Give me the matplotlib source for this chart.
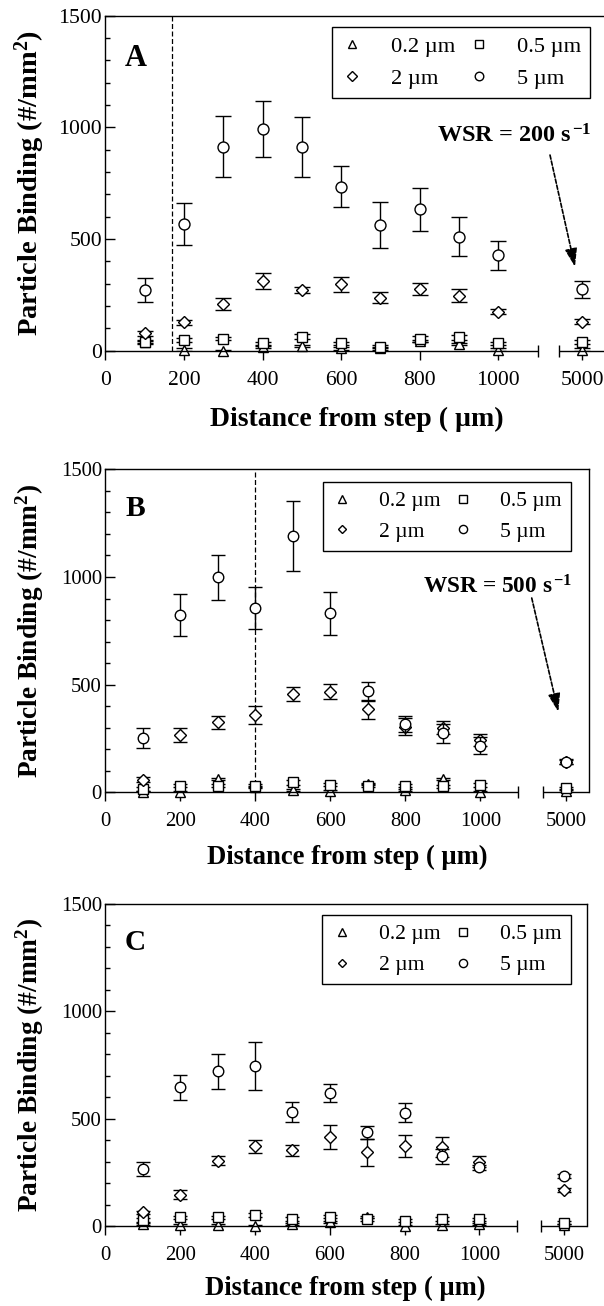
import numpy as np
import matplotlib
matplotlib.use("Agg")
import matplotlib.pyplot as plt
from matplotlib.lines import Line2D
from matplotlib.ticker import FixedLocator, MultipleLocator, NullFormatter, FuncFormatter

plt.rcParams['font.family'] = ['Liberation Serif', 'DejaVu Serif']
plt.rcParams['mathtext.fontset'] = 'custom'
plt.rcParams['mathtext.rm'] = 'Liberation Serif'
plt.rcParams['mathtext.bf'] = 'Liberation Serif:bold'
plt.rcParams['mathtext.it'] = 'Liberation Serif:italic'

# ---------------------------------------------------------------- data
distance = [100, 200, 300, 400, 500, 600, 700, 800, 900, 1000, 5000]
x_ticks = [0, 200, 400, 600, 800, 1000, 5000]
y_ticks = [0, 500, 1000, 1500]
size_labels = ['0.2 µm', '0.5 µm', '2 µm', '5 µm']
panel_letters = ['A', 'B', 'C']
wsr_labels = [r'WSR = 200 s$^{\,\mathbf{-1}}$', r'WSR = 500 s$^{\,\mathbf{-1}}$', None]
step_marks = [170, 400, None]

# panel A
a_p02 = [40, 5, 0, 15, 20, 10, 10, 45, 30, 5, 5]
a_p02_err = [5, 5, 5, 5, 5, 5, 5, 5, 5, 5, 5]
a_p05 = [40, 48, 54, 33, 63, 33, 18, 52, 60, 33, 40]
a_p05_err = [8, 8, 8, 8, 10, 8, 8, 12, 10, 8, 8]
a_p2 = [78, 127, 209, 312, 272, 297, 237, 275, 246, 175, 130]
a_p2_err = [12, 12, 26, 36, 12, 35, 24, 26, 30, 12, 10]
a_p5 = [272, 567, 913, 993, 913, 734, 561, 633, 510, 427, 275]
a_p5_err = [52, 93, 136, 125, 135, 92, 103, 97, 88, 66, 37]

# panel B
b_p02 = [0, 0, 60, 25, 10, 5, 40, 10, 60, 0, 5]
b_p02_err = [5, 5, 5, 5, 5, 5, 5, 5, 5, 5, 5]
b_p05 = [15, 31, 31, 31, 46, 36, 31, 31, 28, 34, 20]
b_p05_err = [8, 8, 8, 8, 10, 8, 8, 8, 8, 8, 6]
b_p2 = [59, 266, 325, 359, 457, 467, 385, 305, 300, 245, 142]
b_p2_err = [10, 31, 31, 40, 34, 34, 44, 38, 30, 28, 10]
b_p5 = [252, 824, 998, 856, 1192, 831, 469, 317, 274, 217, 142]
b_p5_err = [45, 99, 105, 97, 162, 99, 44, 39, 43, 41, 12]

# panel C
c_p02 = [10, 5, 5, 0, 10, 20, 40, 0, 5, 10, 5]
c_p02_err = [5, 5, 5, 5, 5, 5, 5, 5, 5, 5, 5]
c_p05 = [28, 40, 40, 51, 33, 44, 31, 25, 33, 31, 16]
c_p05_err = [8, 8, 8, 8, 8, 8, 8, 8, 8, 8, 6]
c_p2 = [64, 145, 304, 371, 352, 414, 343, 371, 368, 300, 168]
c_p2_err = [8, 21, 22, 31, 26, 55, 62, 51, 45, 27, 8]
c_p5 = [265, 646, 720, 745, 531, 620, 436, 528, 324, 274, 234]
c_p5_err = [33, 57, 80, 110, 45, 42, 31, 45, 37, 12, 10]

panel_series = [
    [(a_p02, a_p02_err), (a_p05, a_p05_err), (a_p2, a_p2_err), (a_p5, a_p5_err)],
    [(b_p02, b_p02_err), (b_p05, b_p05_err), (b_p2, b_p2_err), (b_p5, b_p5_err)],
    [(c_p02, c_p02_err), (c_p05, c_p05_err), (c_p2, c_p2_err), (c_p5, c_p5_err)],
]

# ---------------------------------------------------------------- broken x scale
BREAK_LO = 1100          # end of the linear part of the axis
FAR_CENTER = distance[-1]


def make_broken_scale(gap, half):
    """Linear up to BREAK_LO, a compressed gap, then a short segment around FAR_CENTER."""
    far_lo = FAR_CENTER - half

    def fwd(x):
        x = np.asarray(x, dtype=float)
        mid = BREAK_LO + (x - BREAK_LO) * gap / (far_lo - BREAK_LO)
        far = x - far_lo + BREAK_LO + gap
        return np.where(x <= BREAK_LO, x, np.where(x >= far_lo, far, mid))

    def inv(t):
        t = np.asarray(t, dtype=float)
        mid = BREAK_LO + (t - BREAK_LO) * (far_lo - BREAK_LO) / gap
        far = t - BREAK_LO - gap + far_lo
        return np.where(t <= BREAK_LO, t, np.where(t >= BREAK_LO + gap, far, mid))

    return fwd, inv, far_lo, FAR_CENTER + half


# ---------------------------------------------------------------- layout (pixels)
W, H = 604, 1306
fig = plt.figure(figsize=(W / 100, H / 100), dpi=100)

# left, top, bottom of each frame, pixels per x unit, gap and far half-width
frames = [
    (105.3, 15.7, 350.7, 0.393, 55, 59),
    (105.3, 469.3, 792.3, 0.375, 66, 62),
    (105.3, 904.0, 1226.0, 0.374, 65, 61),
]
scale_f = [1.0, 0.96, 0.96]
legend_anchor = [(0.4525, 0.967), (0.4492, 0.961), (0.4509, 0.9658)]
letter_pos = [(0.0614, 0.871), (0.063, 0.880), (0.0623, 0.879)]
ylabel_x = [-0.1505, -0.1557, -0.1566]
xlabel_pos = [(0.502, -0.2039), (0.4996, -0.2012), (0.4994, -0.1935)]
wsr_pos = [(0.9722, 0.622), (0.9654, 0.617), None]
arrow_from = [(0.8889, 0.584), (0.8815, 0.6015), None]
arrow_to = [(0.9388, 0.2507), (0.9364, 0.2495), None]

markers = ['^', 's', 'D', 'o']
msizes = [7.0, 7.5, 6.0, 7.9]
LW = 1.0

for i in range(3):
    left, top, bottom, pxu, gap, half = frames[i]
    sc = scale_f[i]
    fwd, inv, far_lo, far_hi = make_broken_scale(gap, half)
    width = (BREAK_LO + gap + 2 * half) * pxu
    ax = fig.add_axes([left / W, 1 - bottom / H, width / W, (bottom - top) / H])
    ax.set_xscale('function', functions=(fwd, inv))
    ax.set_xlim(0, far_hi)
    ax.set_ylim(0, 1500)

    for sp in ax.spines.values():
        sp.set_linewidth(LW)
    ax.spines['bottom'].set_visible(False)
    # broken bottom axis: two segments
    xt = ax.get_xaxis_transform()
    ax.plot([0, BREAK_LO], [0, 0], color='black', lw=LW, transform=xt,
            clip_on=False, solid_capstyle='butt', zorder=3)
    ax.plot([far_lo, far_hi], [0, 0], color='black', lw=LW, transform=xt,
            clip_on=False, solid_capstyle='butt', zorder=3)

    ax.xaxis.set_major_locator(FixedLocator(x_ticks))
    ax.xaxis.set_major_formatter(FuncFormatter(lambda v, p: f'{v:.0f}'))
    ax.xaxis.set_minor_locator(FixedLocator([BREAK_LO, far_lo]))
    ax.xaxis.set_minor_formatter(NullFormatter())
    ax.yaxis.set_major_locator(FixedLocator(y_ticks))
    ax.yaxis.set_minor_locator(MultipleLocator(100))
    ax.tick_params(axis='x', which='major', direction='out', length=6.5, width=LW,
                   pad=8.0, labelsize=15.6 * sc, top=False)
    ax.tick_params(axis='x', which='minor', direction='inout', length=8.6, width=LW, top=False)
    ax.tick_params(axis='y', which='major', direction='in', length=7.2, width=LW,
                   pad=2.5, labelsize=15.6 * sc, right=False)
    ax.tick_params(axis='y', which='minor', direction='in', length=3.6, width=LW, right=False)

    # step position marker
    if step_marks[i] is not None:
        ax.axvline(step_marks[i], color='black', lw=0.9, ls=(0, (4, 2)), zorder=1)

    # data: error bars below, hollow markers on top
    for k, (vals, errs) in enumerate(panel_series[i]):
        ax.errorbar(distance, vals, yerr=errs, fmt='none', ecolor='black',
                    elinewidth=LW, capsize=5.5 * sc, capthick=LW, zorder=2 + k)
        ax.plot(distance, vals, ls='none', marker=markers[k], ms=msizes[k] * sc,
                mfc='white', mec='black', mew=LW, zorder=2.5 + k, clip_on=False)

    handles = [Line2D([], [], ls='none', marker=markers[k], ms=msizes[k] * 0.78 * sc,
                      mfc='white', mec='black', mew=LW) for k in range(4)]
    order = [0, 2, 1, 3]
    leg = ax.legend([handles[k] for k in order], [size_labels[k] for k in order],
                    ncol=2, loc='upper left', bbox_to_anchor=legend_anchor[i],
                    borderaxespad=0, frameon=True, fancybox=False, framealpha=1,
                    edgecolor='black', fontsize=16.2 * sc, handlelength=1.0,
                    handletextpad=1.2, columnspacing=0.55, labelspacing=0.5,
                    borderpad=0.42)
    leg.get_frame().set_linewidth(LW)
    leg.set_zorder(10)

    ax.text(*letter_pos[i], panel_letters[i], transform=ax.transAxes,
            fontsize=22 * sc, fontweight='bold', ha='center', va='center')

    ax.set_ylabel(r'Particle Binding (#/mm$^{\mathbf{2}}$)', fontsize=20.5 * sc,
                  fontweight='bold', va='center')
    ax.yaxis.set_label_coords(ylabel_x[i], 0.5)
    ax.set_xlabel('Distance from step ( µm)', fontsize=20 * sc, fontweight='bold',
                  va='center')
    ax.xaxis.set_label_coords(*xlabel_pos[i])

    if wsr_labels[i] is not None:
        ax.text(*wsr_pos[i], wsr_labels[i], transform=ax.transAxes, fontsize=17.5 * sc,
                fontweight='bold', ha='right', va='baseline')
        ax.annotate('', xy=arrow_to[i], xycoords='axes fraction',
                    xytext=arrow_from[i], textcoords='axes fraction',
                    arrowprops=dict(arrowstyle='-|>,head_length=1.1,head_width=0.37',
                                    ls=(0, (2.5, 1.2)), lw=1.2, color='black',
                                    shrinkA=0, shrinkB=0, mutation_scale=10))

fig.savefig('out.png', dpi=100)
